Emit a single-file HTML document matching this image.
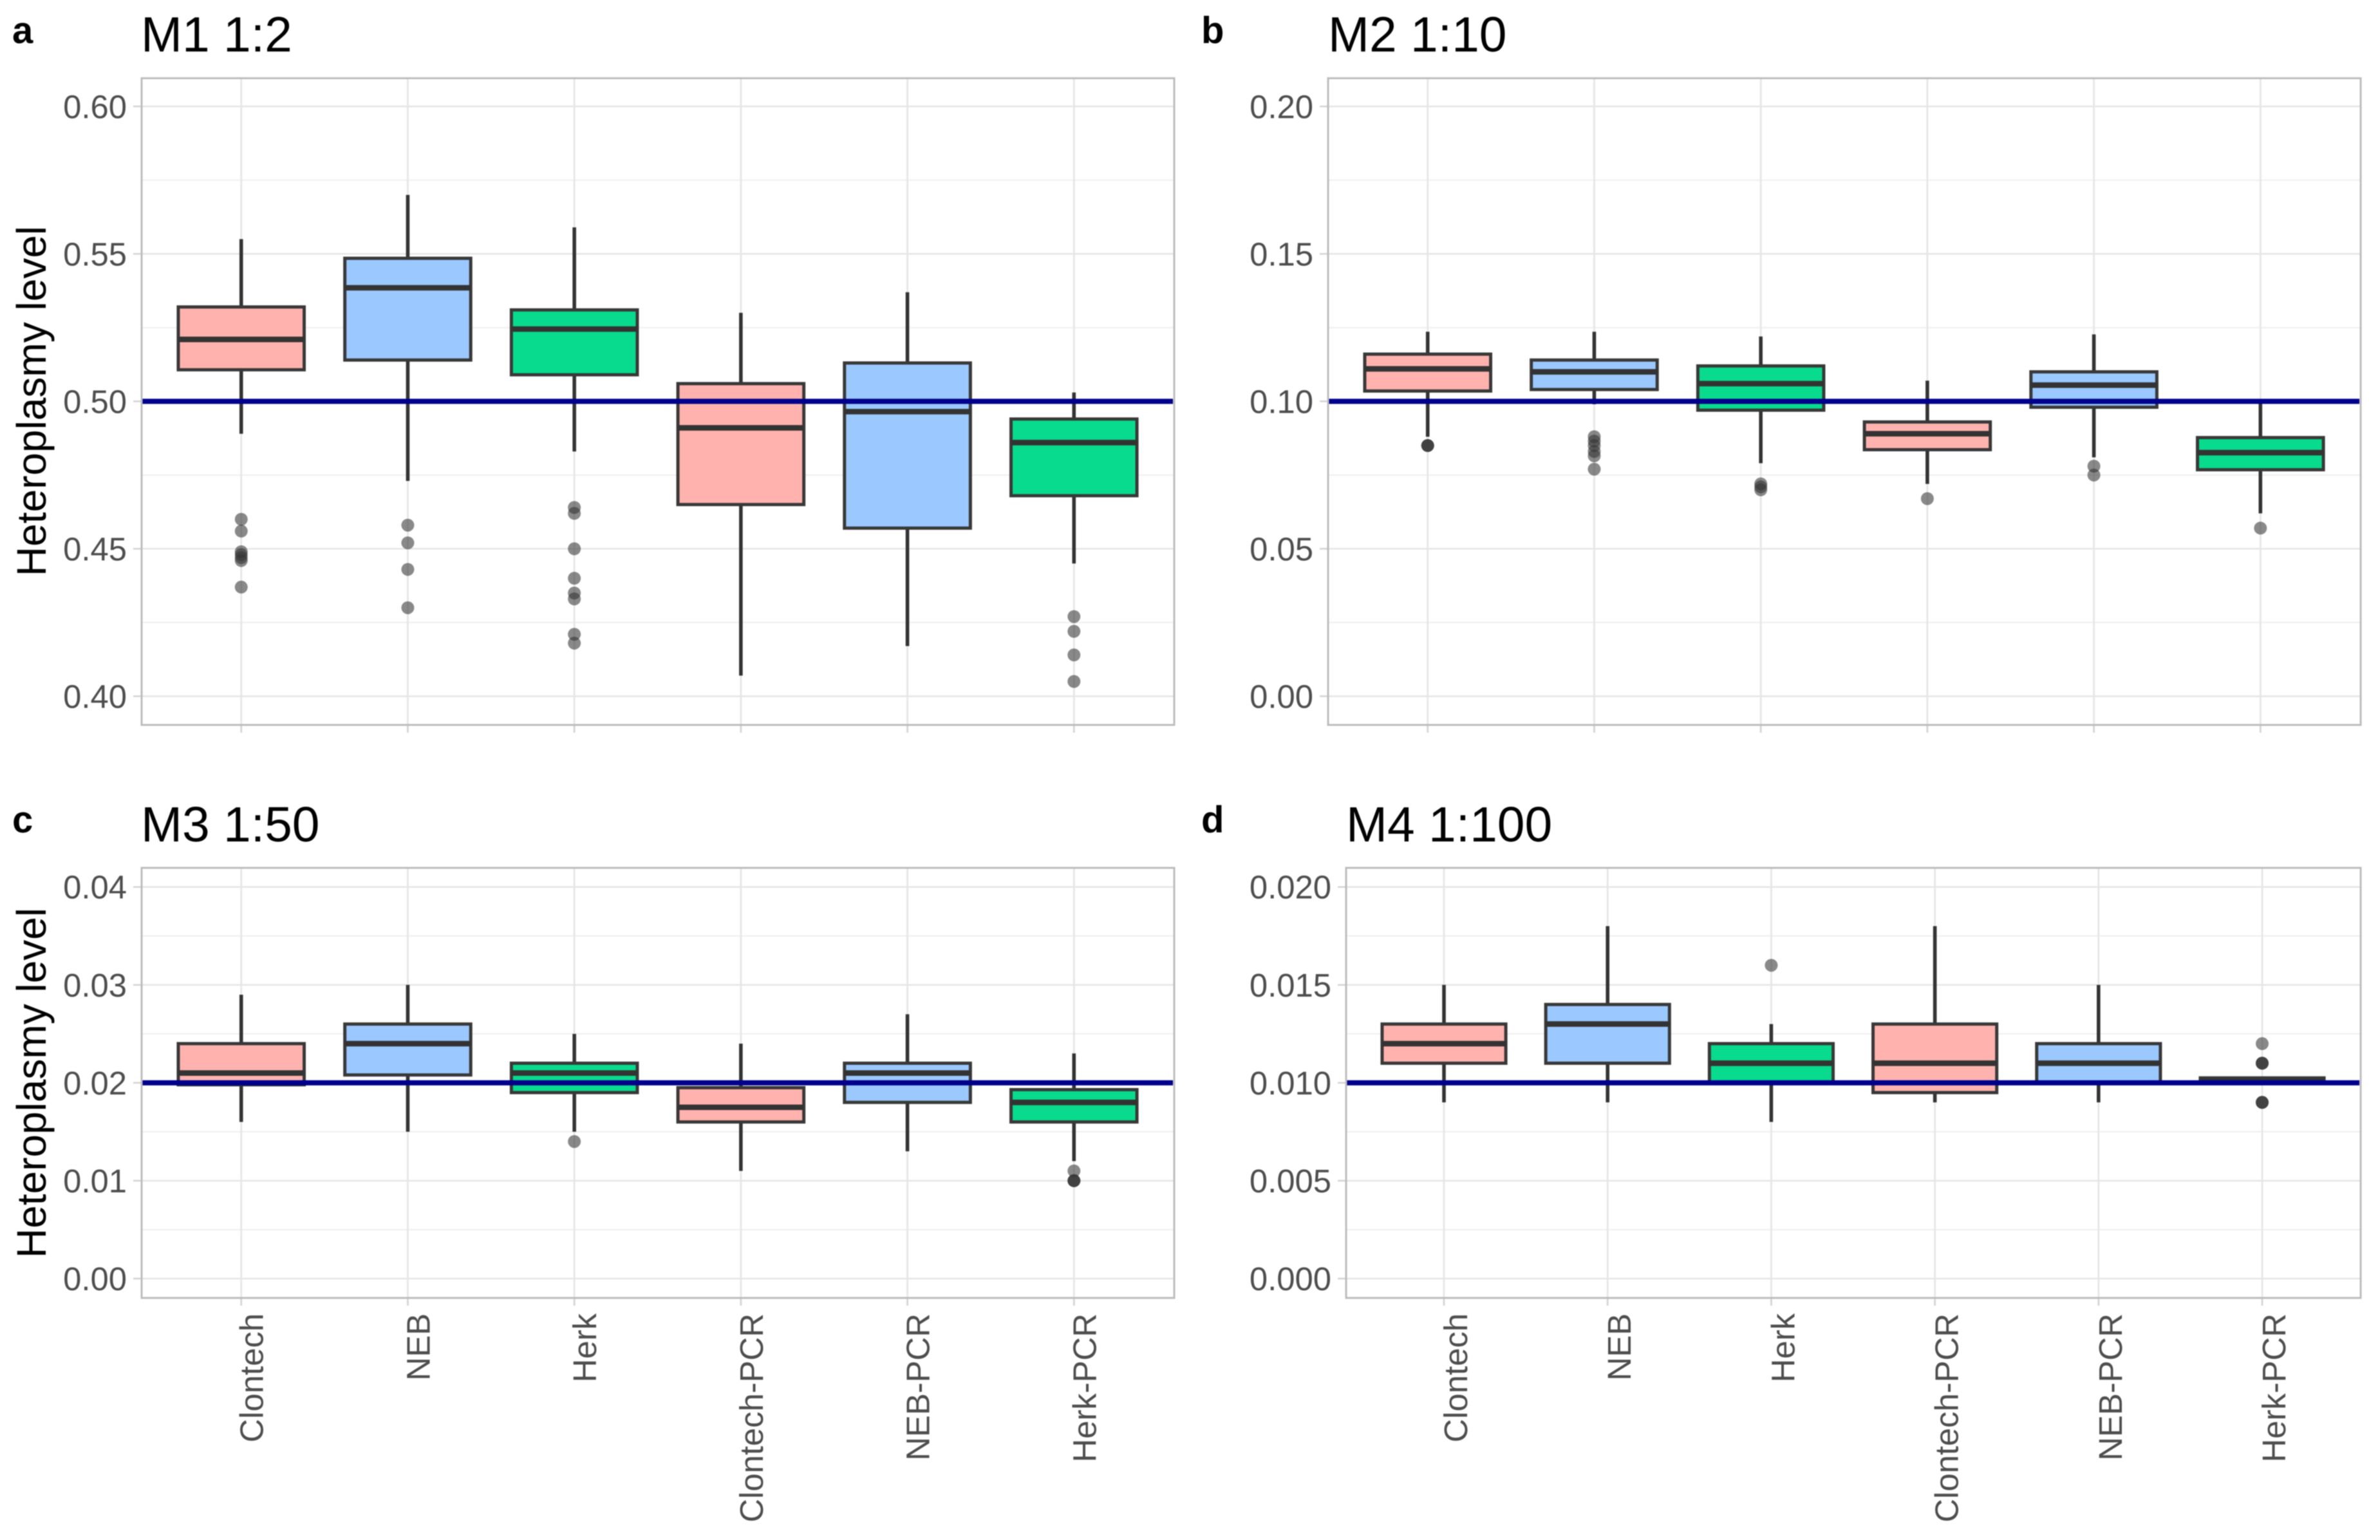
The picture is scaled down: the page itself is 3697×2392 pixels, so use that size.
<!DOCTYPE html>
<html lang="en">
<head>
<meta charset="utf-8">
<title>Heteroplasmy level boxplots</title>
<style>
html,body{margin:0;padding:0;background:#fff;}
svg{display:block;filter:blur(0.7px);}
text{font-family:"Liberation Sans",sans-serif;}
</style>
</head>
<body>
<svg id="figure" xmlns="http://www.w3.org/2000/svg" width="3697" height="2392" viewBox="0 0 3697 2392">
  <rect x="0" y="0" width="3697" height="2392" fill="#ffffff"/>
  <text x="19" y="67" font-size="58" font-weight="700" fill="#000">a</text>
  <text x="1866" y="67" font-size="58" font-weight="700" fill="#000">b</text>
  <text x="19" y="1293" font-size="58" font-weight="700" fill="#000">c</text>
  <text x="1866" y="1293" font-size="58" font-weight="700" fill="#000">d</text>
  <text x="219" y="80" font-size="76.8" fill="#000">M1 1:2</text>
  <text x="2063" y="80" font-size="76.8" fill="#000">M2 1:10</text>
  <text x="219" y="1307" font-size="76.8" fill="#000">M3 1:50</text>
  <text x="2091" y="1307" font-size="76.8" fill="#000">M4 1:100</text>
  <text transform="translate(71,623) rotate(-90)" text-anchor="middle" font-size="64" fill="#000">Heteroplasmy level</text>
  <text transform="translate(71,1682) rotate(-90)" text-anchor="middle" font-size="64" fill="#000">Heteroplasmy level</text>
</svg>
<script>
/* Shared categories */
const categories = ["Clontech", "NEB", "Herk", "Clontech-PCR", "NEB-PCR", "Herk-PCR"];
const boxColors = ["#ffafab", "#97c6ff", "#00da89", "#ffafab", "#97c6ff", "#00da89"];

/* Panel a: M1 1:2 */
const aTickLabels = ["0.40", "0.45", "0.50", "0.55", "0.60"];
const aTickValues = [0.40, 0.45, 0.50, 0.55, 0.60];
const aReference = 0.50;
const aWhiskerHigh = [0.555, 0.570, 0.559, 0.530, 0.537, 0.503];
const aQ3 = [0.532, 0.5485, 0.531, 0.506, 0.513, 0.494];
const aMedian = [0.521, 0.5385, 0.5245, 0.491, 0.4965, 0.486];
const aQ1 = [0.5107, 0.514, 0.509, 0.465, 0.457, 0.468];
const aWhiskerLow = [0.489, 0.473, 0.483, 0.407, 0.417, 0.445];
const aOutliers = [
  [0.460, 0.456, 0.449, 0.448, 0.447, 0.446, 0.437],
  [0.458, 0.452, 0.443, 0.430],
  [0.464, 0.462, 0.450, 0.440, 0.435, 0.433, 0.421, 0.418],
  [],
  [],
  [0.427, 0.422, 0.414, 0.405]
];

/* Panel b: M2 1:10 */
const bTickLabels = ["0.00", "0.05", "0.10", "0.15", "0.20"];
const bTickValues = [0.00, 0.05, 0.10, 0.15, 0.20];
const bReference = 0.10;
const bWhiskerHigh = [0.1236, 0.1236, 0.122, 0.107, 0.1227, 0.100];
const bQ3 = [0.116, 0.114, 0.112, 0.093, 0.110, 0.0877];
const bMedian = [0.111, 0.110, 0.106, 0.089, 0.1055, 0.0826];
const bQ1 = [0.1035, 0.104, 0.097, 0.0836, 0.098, 0.0768];
const bWhiskerLow = [0.088, 0.099, 0.079, 0.072, 0.081, 0.062];
const bOutliers = [
  [0.085, 0.085, 0.085],
  [0.088, 0.0865, 0.085, 0.083, 0.0815, 0.077],
  [0.072, 0.071, 0.070],
  [0.067],
  [0.078, 0.075],
  [0.057]
];

/* Panel c: M3 1:50 */
const cTickLabels = ["0.00", "0.01", "0.02", "0.03", "0.04"];
const cTickValues = [0.00, 0.01, 0.02, 0.03, 0.04];
const cReference = 0.02;
const cWhiskerHigh = [0.029, 0.030, 0.025, 0.024, 0.027, 0.023];
const cQ3 = [0.024, 0.026, 0.022, 0.0195, 0.022, 0.0193];
const cMedian = [0.021, 0.024, 0.021, 0.0175, 0.021, 0.018];
const cQ1 = [0.0198, 0.0208, 0.019, 0.016, 0.018, 0.016];
const cWhiskerLow = [0.016, 0.015, 0.015, 0.011, 0.013, 0.012];
const cOutliers = [
  [],
  [],
  [0.014],
  [],
  [],
  [0.011, 0.010, 0.010, 0.010]
];

/* Panel d: M4 1:100 */
const dTickLabels = ["0.000", "0.005", "0.010", "0.015", "0.020"];
const dTickValues = [0.000, 0.005, 0.010, 0.015, 0.020];
const dReference = 0.010;
const dWhiskerHigh = [0.015, 0.018, 0.013, 0.018, 0.015, 0.01025];
const dQ3 = [0.013, 0.014, 0.012, 0.013, 0.012, 0.01025];
const dMedian = [0.012, 0.013, 0.011, 0.011, 0.011, 0.0101];
const dQ1 = [0.011, 0.011, 0.010, 0.0095, 0.010, 0.010];
const dWhiskerLow = [0.009, 0.009, 0.008, 0.009, 0.009, 0.010];
const dOutliers = [
  [],
  [],
  [0.016],
  [],
  [],
  [0.012, 0.011, 0.011, 0.011, 0.009, 0.009, 0.009]
];

const SVG_NS = "http://www.w3.org/2000/svg";
const figure = document.getElementById("figure");

function make(tag, parent, attrs) {
  const el = document.createElementNS(SVG_NS, tag);
  for (const key in attrs) el.setAttribute(key, attrs[key]);
  parent.appendChild(el);
  return el;
}

function drawPanel(id, frame, showXLabels, data) {
  const unit = (frame.right - frame.left) / (categories.length - 1 + 1.2);
  const xScale = function (i) { return frame.left + unit * (0.6 + i) - 0.5; };
  const vMin = data.ticks[0];
  const vMax = data.ticks[data.ticks.length - 1];
  const yScale = function (v) {
    return frame.yAtMin + (v - vMin) / (vMax - vMin) * (frame.yAtMax - frame.yAtMin);
  };

  const group = make("g", figure, {});
  
  

  const bg = make("rect", group, { x: frame.left, y: frame.top, width: frame.right - frame.left, height: frame.bottom - frame.top, fill: "#ffffff" });
  
  

  /* minor horizontal grid */
  for (let t = 0; t < data.ticks.length - 1; t++) {
    const minorY = yScale((data.ticks[t] + data.ticks[t + 1]) / 2);
    const minor = make("line", group, { x1: frame.left, x2: frame.right, y1: minorY, y2: minorY, stroke: "#f0f0f0", "stroke-width": 2.2 });
    
    
  }

  /* major horizontal grid, y ticks and labels */
  data.ticks.forEach(function (value, t) {
    const tickY = yScale(value);
    const grid = make("line", group, { x1: frame.left, x2: frame.right, y1: tickY, y2: tickY, stroke: "#e6e6e6", "stroke-width": 2.6 });
    
    
    const tick = make("line", group, { x1: frame.left - 13, x2: frame.left, y1: tickY, y2: tickY, stroke: "#d4d4d4", "stroke-width": 2.6 });
    
    
    const label = make("text", group, { x: frame.left - 23, y: tickY + 18, "text-anchor": "end", "font-size": 50.8, fill: "#4d4d4d" });
    label.textContent = data.tickLabels[t];
    
    
  });

  /* vertical grid, x ticks and labels */
  categories.forEach(function (name, i) {
    const gx = xScale(i);
    const vgrid = make("line", group, { x1: gx, x2: gx, y1: frame.top, y2: frame.bottom, stroke: "#e6e6e6", "stroke-width": 2.8 });
    
    
    const xtick = make("line", group, { x1: gx, x2: gx, y1: frame.bottom, y2: frame.bottom + 12, stroke: "#d4d4d4", "stroke-width": 2.8 });
    
    
    if (showXLabels) {
      const labelX = gx + frame.labelOffset;
      const labelY = 2040;
      const xlabel = make("text", group, { transform: "translate(" + labelX + "," + labelY + ") rotate(-90)", "text-anchor": "end", "font-size": 50.8, fill: "#4d4d4d" });
      xlabel.textContent = name;
      
      
    }
  });

  /* boxplots */
  categories.forEach(function (name, i) {
    const cx = xScale(i);
    const halfBox = unit * 0.378;
    const yHigh = yScale(data.high[i]);
    const yQ3 = yScale(data.q3[i]);
    const yMed = yScale(data.median[i]);
    const yQ1 = yScale(data.q1[i]);
    const yLow = yScale(data.low[i]);

    const box = make("g", group, {});
    
    

    const upper = make("line", box, { x1: cx, x2: cx, y1: yHigh, y2: yQ3, stroke: "#333333", "stroke-width": 5.6 });
    
    
    const lower = make("line", box, { x1: cx, x2: cx, y1: yQ1, y2: yLow, stroke: "#333333", "stroke-width": 5.6 });
    
    
    const body = make("rect", box, { x: cx - halfBox, y: yQ3, width: halfBox * 2, height: Math.max(yQ1 - yQ3, 0.5), fill: boxColors[i], "fill-opacity": 0.97, stroke: "#383838", "stroke-width": 5 });
    
    
    const med = make("line", box, { x1: cx - halfBox, x2: cx + halfBox, y1: yMed, y2: yMed, stroke: "#333333", "stroke-width": 8.6 });
    
    

    data.outliers[i].forEach(function (value) {
      const dot = make("circle", box, { cx: cx, cy: yScale(value), r: 10, fill: "#333333", "fill-opacity": 0.58 });
      
      
    });
  });

  /* reference line */
  const refY = yScale(data.reference);
  const ref = make("line", group, { x1: frame.left + 1, x2: frame.right - 2, y1: refY, y2: refY, stroke: "#00008b", "stroke-width": 8 });
  
  

  /* panel border */
  const border = make("rect", group, { x: frame.left, y: frame.top, width: frame.right - frame.left, height: frame.bottom - frame.top, fill: "none", stroke: "#bcbcbc", "stroke-width": 3 });
  
  
}

drawPanel("a", { left: 220, right: 1824, top: 121.5, bottom: 1126, yAtMin: 1081.4, yAtMax: 165.3, labelOffset: 34 }, false, {
  ticks: aTickValues, tickLabels: aTickLabels, reference: aReference,
  high: aWhiskerHigh, q3: aQ3, median: aMedian, q1: aQ1, low: aWhiskerLow, outliers: aOutliers
});
drawPanel("b", { left: 2063, right: 3667, top: 121.5, bottom: 1126, yAtMin: 1081.4, yAtMax: 165.3, labelOffset: 34 }, false, {
  ticks: bTickValues, tickLabels: bTickLabels, reference: bReference,
  high: bWhiskerHigh, q3: bQ3, median: bMedian, q1: bQ1, low: bWhiskerLow, outliers: bOutliers
});
drawPanel("c", { left: 220, right: 1824, top: 1348, bottom: 2016, yAtMin: 1986, yAtMax: 1377.7, labelOffset: 34 }, true, {
  ticks: cTickValues, tickLabels: cTickLabels, reference: cReference,
  high: cWhiskerHigh, q3: cQ3, median: cMedian, q1: cQ1, low: cWhiskerLow, outliers: cOutliers
});
drawPanel("d", { left: 2091, right: 3667, top: 1348, bottom: 2016, yAtMin: 1986, yAtMax: 1377.7, labelOffset: 36 }, true, {
  ticks: dTickValues, tickLabels: dTickLabels, reference: dReference,
  high: dWhiskerHigh, q3: dQ3, median: dMedian, q1: dQ1, low: dWhiskerLow, outliers: dOutliers
});
</script>
</body>
</html>
